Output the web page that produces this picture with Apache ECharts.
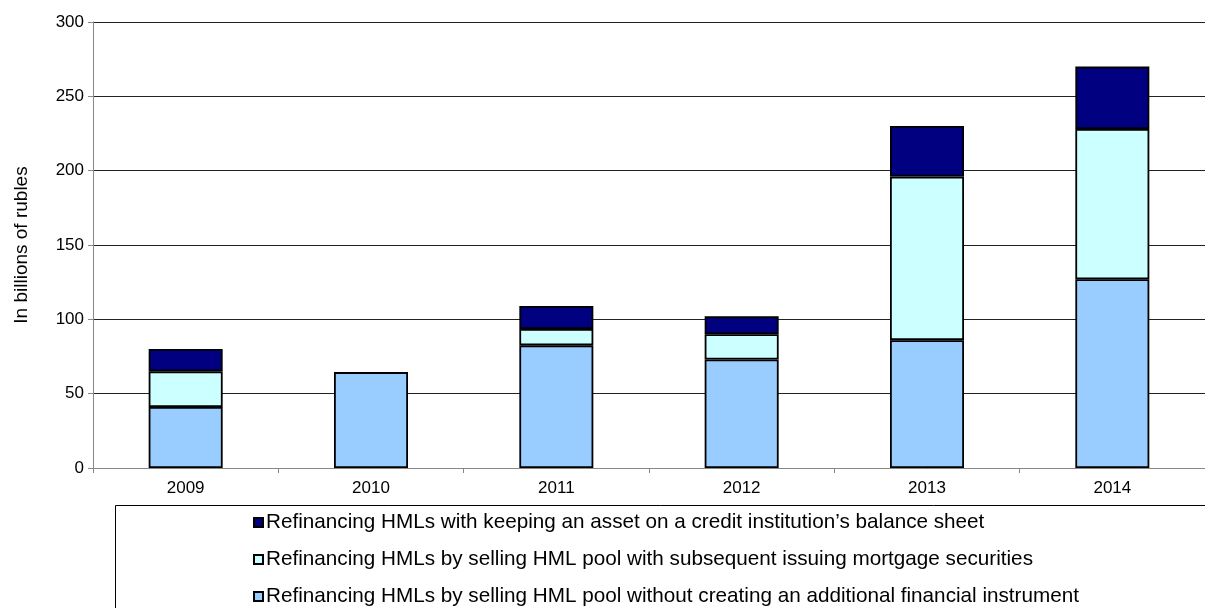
<!DOCTYPE html>
<html>
<head>
<meta charset="utf-8">
<script src="https://cdn.jsdelivr.net/npm/echarts@6/dist/echarts.min.js"></script>
<style>
  html, body { margin: 0; padding: 0; background: #fff; }
  #chart { width: 1205px; height: 608px; }
</style>
</head>
<body>
<div id="chart"></div>
<script>
  const years = ['2009', '2010', '2011', '2012', '2013', '2014']
  const nameWithout = 'Refinancing HMLs by selling HML pool without creating an additional financial instrument'
  const nameSecurities = 'Refinancing HMLs by selling HML pool with subsequent issuing mortgage securities'
  const nameKeeping = 'Refinancing HMLs with keeping an asset on a credit institution\u2019s balance sheet'
  const withoutValues = [41, 64.5, 82.5, 73, 86, 127]
  const securitiesValues = [24, 0, 11, 17, 110, 101]
  const keepingValues = [15, 0, 15.5, 12, 34, 42]

  const font = 'Liberation Sans, Arial, sans-serif'
  const chart = echarts.init(document.getElementById('chart'))

  const barStyle = (color) => ({ color: color, borderColor: '#000', borderWidth: 1.8 })

  chart.setOption({
    backgroundColor: '#fff',
    animation: false,
    // plot runs a little past the right edge, like the cropped original
    grid: { left: 93, right: -7, top: 22, bottom: 140 },
    graphic: [{
      type: 'rect',
      shape: { x: 115.5, y: 505.5, width: 1100, height: 130 },
      style: { fill: 'none', stroke: '#000', lineWidth: 1 }
    }],
    legend: {
      orient: 'vertical',
      left: 253,
      top: 512,
      padding: 0,
      itemGap: 16,
      itemWidth: 9,
      itemHeight: 9,
      icon: 'rect',
      textStyle: { fontFamily: font, fontSize: 20.7, lineHeight: 20, color: '#000', padding: [0, 0, 0, -2] },
      data: [nameKeeping, nameSecurities, nameWithout]
    },
    xAxis: {
      type: 'category',
      data: years,
      axisLine: { lineStyle: { color: '#888' } },
      axisTick: { show: true, length: 5, lineStyle: { color: '#888' } },
      axisLabel: { fontFamily: font, fontSize: 17, color: '#000', margin: 12 }
    },
    yAxis: {
      type: 'value',
      min: 0,
      max: 300,
      interval: 50,
      name: 'In billions of rubles',
      nameLocation: 'middle',
      nameGap: 62,
      nameTextStyle: { fontFamily: font, fontSize: 19, color: '#000' },
      axisLine: { show: true, lineStyle: { color: '#888' } },
      axisTick: { show: true, length: 5, lineStyle: { color: '#888' } },
      axisLabel: { fontFamily: font, fontSize: 17, color: '#000', margin: 9 },
      splitLine: { lineStyle: { color: '#222', width: 1 } }
    },
    series: [
      {
        name: nameWithout,
        type: 'bar',
        stack: 'total',
        barWidth: 74,
        itemStyle: barStyle('#99ccff'),
        data: withoutValues
      },
      {
        name: nameSecurities,
        type: 'bar',
        stack: 'total',
        barWidth: 74,
        itemStyle: barStyle('#ccffff'),
        data: securitiesValues.map(v => v === 0 ? null : v)
      },
      {
        name: nameKeeping,
        type: 'bar',
        stack: 'total',
        barWidth: 74,
        itemStyle: barStyle('#000080'),
        data: keepingValues.map(v => v === 0 ? null : v)
      }
    ]
  })
</script>
</body>
</html>
